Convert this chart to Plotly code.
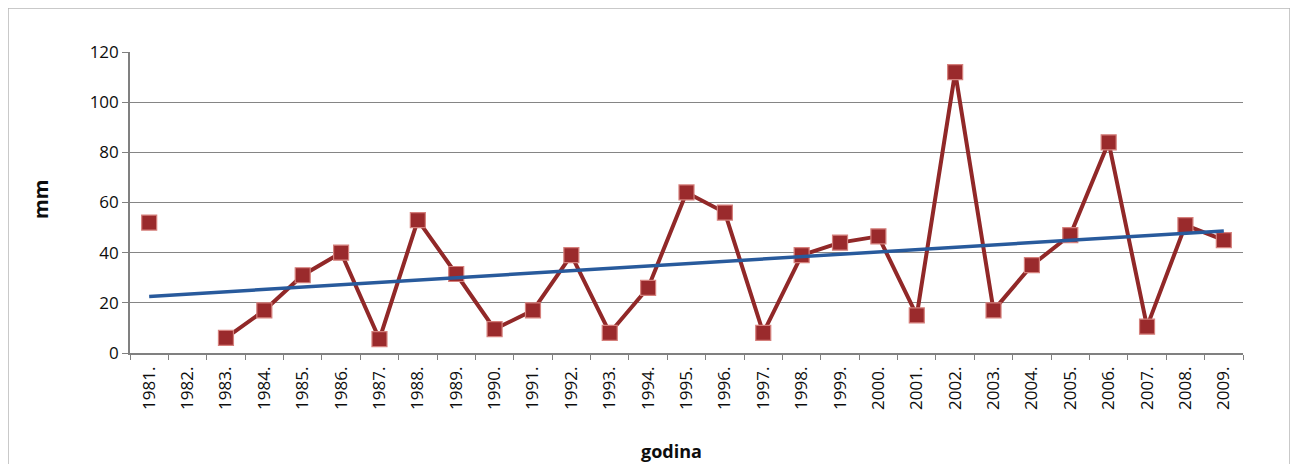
import numpy as np
import plotly.graph_objects as go

years = [f"{y}." for y in range(1981, 2010)]
values = [52, None, 6, 17, 31, 40, 5.5, 53, 31.5, 9.5, 17, 39, 8, 26, 64, 56, 8,
          39, 44, 46.5, 15, 112, 17, 35, 47, 84, 10.5, 51, 45]

y_ticks = [0, 20, 40, 60, 80, 100, 120]

# linear trend (least squares over available values)
idx = np.arange(len(values))
mask = np.array([v is not None for v in values])
yv = np.array([v if v is not None else np.nan for v in values], dtype=float)
slope, intercept = np.polyfit(idx[mask], yv[mask], 1)
trend = (intercept + slope * idx).tolist()

fig = go.Figure()
fig.add_trace(go.Scatter(
    x=years, y=values, mode="lines+markers", connectgaps=False,
    line=dict(color="#912828", width=4),
    marker=dict(symbol="square", size=15, color="#9A2A2C",
                line=dict(color="#D5807C", width=1.2)),
    showlegend=False))
fig.add_trace(go.Scatter(
    x=years, y=trend, mode="lines",
    line=dict(color="#285A9C", width=3.5),
    showlegend=False))

# page has an 8px body margin; figure coords = page coords - 8
OFF = 8
W, H = 1298, 464
L, T = 130 - OFF, 52 - OFF
R = W - (1243 - OFF)
B = H - (353 - OFF)
pw, ph = W - L - R, H - T - B


def px(xpage):
    return (xpage - OFF - L) / pw


def py(ypage):
    return (H - B - (ypage - OFF)) / ph


fig.update_layout(
    width=W, height=H,
    margin=dict(l=L, r=R, t=T, b=B),
    paper_bgcolor="white", plot_bgcolor="white",
    font=dict(family="Open Sans, Lato, sans-serif", color="#0d0d0d"),
    xaxis=dict(type="category", range=[-0.5, len(years) - 0.5],
               tickangle=-90, tickson="boundaries", ticks="outside",
               ticklen=5, tickcolor="#808080", showgrid=False,
               showline=True, linecolor="#808080", linewidth=1.6,
               ticklabelstandoff=5,
               tickfont=dict(size=17), fixedrange=True),
    yaxis=dict(range=[0, 120], tickvals=y_ticks, ticks="outside",
               ticklen=6, tickcolor="#808080", showgrid=True,
               gridcolor="#858585", gridwidth=1.4, zeroline=False,
               showline=True, linecolor="#808080", linewidth=1.6,
               tickfont=dict(size=17)),
    annotations=[
        dict(text="<b>mm</b>", textangle=-90, x=px(40), y=py(200),
             xanchor="center", yanchor="middle",
             xref="paper", yref="paper", showarrow=False,
             font=dict(size=20, color="#0d0d0d")),
        dict(text="<b>godina</b>", x=px(671), y=py(451),
             xanchor="center", yanchor="middle",
             xref="paper", yref="paper", showarrow=False,
             font=dict(size=18, color="#0d0d0d")),
    ],
    shapes=[dict(type="rect", xref="paper", yref="paper",
                 x0=px(8), x1=px(1290),
                 y0=py(480), y1=py(8),
                 line=dict(color="#b8b8b8", width=1.5))],
)

fig.write_html("out.html")
